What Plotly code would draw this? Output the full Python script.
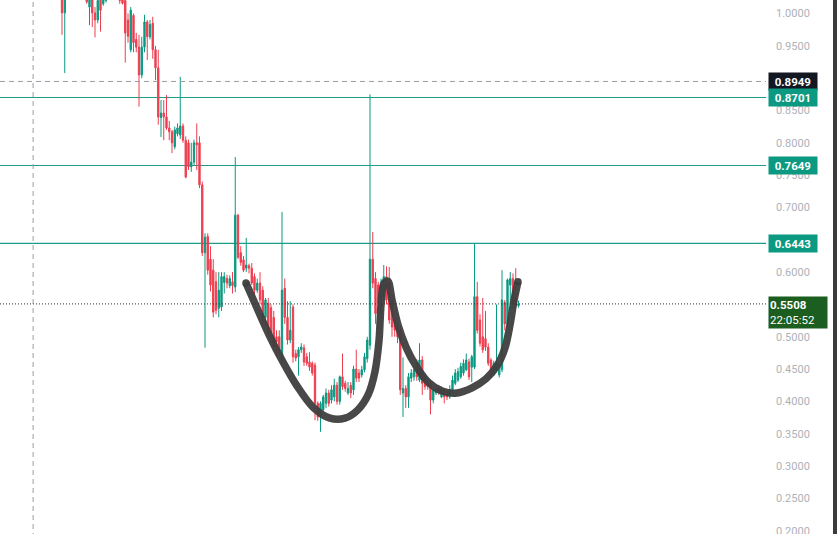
import plotly.graph_objects as go

# ---- candle data (index order, left to right) ----
opens = [1.036,1.001,1.050,1.070,1.085,1.075,1.060,1.070,1.055,1.040,
         1.010,1.040,1.001,0.990,1.025,1.015,1.020,1.040,1.055,1.050,
         1.045,1.040,1.030,1.020,0.990,0.944,0.997,0.960,0.948,0.905,
         0.948,0.987,0.964,0.985,0.944,0.916,0.839,0.846,0.840,0.823,
         0.817,0.794,0.814,0.812,0.826,0.804,0.800,0.763,0.770,0.800,
         0.800,0.735,0.630,0.655,0.620,0.603,0.585,0.544,0.546,0.584,
         0.590,0.579,0.585,0.577,0.688,0.630,0.619,0.606,0.610,0.606,
         0.593,0.572,0.583,0.572,0.530,0.552,0.545,0.530,0.500,0.500,
         0.464,0.575,0.530,0.495,0.546,0.474,0.469,0.480,0.483,0.469,
         0.461,0.459,0.456,0.397,0.376,0.387,0.397,0.413,0.402,0.407,
         0.425,0.400,0.438,0.428,0.413,0.425,0.418,0.450,0.444,0.441,
         0.449,0.466,0.487,0.620,0.590,0.580,0.536,0.562,0.593,0.583,
         0.557,0.526,0.515,0.510,0.413,0.420,0.407,0.436,0.438,0.459,
         0.433,0.464,0.438,0.430,0.428,0.402,0.413,0.420,0.407,0.418,
         0.415,0.407,0.418,0.428,0.433,0.438,0.444,0.449,0.461,0.453,
         0.453,0.562,0.526,0.500,0.497,0.484,0.464,0.444,0.449,0.441,
         0.449,0.553,0.520,0.580,0.590,0.560,0.548]
highs = [1.052,1.040,1.080,1.095,1.100,1.090,1.080,1.085,1.065,1.050,
         1.050,1.050,1.010,1.030,1.030,1.030,1.045,1.060,1.070,1.065,
         1.055,1.050,1.040,1.025,1.000,1.010,1.000,0.970,0.967,0.964,
         0.998,0.990,0.990,0.995,0.950,0.944,0.866,0.866,0.874,0.834,
         0.820,0.825,0.830,0.902,0.830,0.810,0.805,0.800,0.805,0.830,
         0.810,0.740,0.660,0.660,0.640,0.620,0.600,0.600,0.600,0.600,
         0.596,0.595,0.600,0.778,0.690,0.640,0.625,0.653,0.613,0.614,
         0.598,0.590,0.600,0.578,0.560,0.560,0.550,0.540,0.510,0.510,
         0.693,0.590,0.555,0.555,0.550,0.480,0.484,0.490,0.488,0.475,
         0.476,0.462,0.460,0.400,0.400,0.410,0.420,0.418,0.425,0.435,
         0.430,0.440,0.474,0.432,0.430,0.430,0.455,0.480,0.450,0.455,
         0.475,0.500,0.875,0.662,0.600,0.585,0.590,0.611,0.609,0.608,
         0.565,0.530,0.520,0.515,0.468,0.425,0.444,0.450,0.455,0.465,
         0.490,0.470,0.444,0.435,0.433,0.420,0.425,0.425,0.423,0.420,
         0.418,0.425,0.440,0.450,0.452,0.460,0.465,0.474,0.466,0.472,
         0.645,0.585,0.535,0.560,0.540,0.490,0.467,0.463,0.550,0.460,
         0.603,0.557,0.590,0.600,0.598,0.606,0.556]
lows = [0.967,0.908,1.040,1.060,1.065,1.055,1.045,1.050,1.030,1.015,
        0.982,0.979,0.963,0.985,0.972,1.012,1.017,1.030,1.040,1.035,
        1.025,1.015,1.014,0.924,0.955,0.940,0.940,0.940,0.856,0.900,
        0.940,0.928,0.960,0.930,0.897,0.828,0.809,0.804,0.820,0.804,
        0.784,0.790,0.810,0.806,0.800,0.745,0.758,0.755,0.765,0.758,
        0.730,0.625,0.483,0.596,0.570,0.530,0.535,0.530,0.540,0.567,
        0.575,0.575,0.567,0.569,0.620,0.610,0.600,0.600,0.598,0.580,
        0.565,0.568,0.550,0.520,0.515,0.500,0.490,0.478,0.469,0.470,
        0.460,0.520,0.488,0.490,0.460,0.462,0.440,0.475,0.455,0.455,
        0.447,0.440,0.371,0.370,0.353,0.383,0.390,0.392,0.397,0.400,
        0.395,0.395,0.418,0.415,0.410,0.405,0.410,0.430,0.430,0.437,
        0.445,0.460,0.480,0.575,0.520,0.511,0.511,0.555,0.550,0.520,
        0.500,0.500,0.490,0.410,0.376,0.390,0.390,0.430,0.432,0.432,
        0.430,0.410,0.418,0.418,0.380,0.397,0.410,0.410,0.405,0.397,
        0.402,0.404,0.413,0.425,0.430,0.435,0.440,0.447,0.433,0.430,
        0.450,0.505,0.485,0.475,0.478,0.455,0.436,0.440,0.445,0.437,
        0.445,0.510,0.515,0.550,0.545,0.545,0.545]
closes = [1.001,1.029,1.070,1.085,1.075,1.060,1.070,1.055,1.040,1.018,
          1.040,1.001,0.990,1.020,1.005,1.025,1.040,1.055,1.050,1.045,
          1.040,1.020,1.016,0.970,0.965,1.005,0.955,0.948,0.905,0.948,
          0.987,0.964,0.983,0.944,0.916,0.840,0.846,0.840,0.823,0.817,
          0.800,0.820,0.823,0.826,0.804,0.747,0.763,0.770,0.800,0.797,
          0.735,0.630,0.654,0.603,0.580,0.538,0.541,0.572,0.593,0.593,
          0.583,0.590,0.579,0.688,0.623,0.615,0.603,0.611,0.606,0.583,
          0.572,0.583,0.557,0.530,0.557,0.506,0.506,0.484,0.492,0.478,
          0.572,0.530,0.495,0.510,0.469,0.467,0.480,0.484,0.461,0.459,
          0.453,0.444,0.397,0.376,0.397,0.407,0.413,0.397,0.418,0.425,
          0.400,0.438,0.423,0.420,0.420,0.413,0.450,0.436,0.436,0.449,
          0.469,0.495,0.620,0.583,0.536,0.552,0.583,0.593,0.557,0.526,
          0.515,0.510,0.500,0.418,0.420,0.407,0.438,0.444,0.449,0.438,
          0.464,0.428,0.423,0.423,0.402,0.418,0.420,0.413,0.418,0.407,
          0.407,0.418,0.433,0.444,0.446,0.454,0.459,0.464,0.438,0.469,
          0.562,0.510,0.490,0.480,0.484,0.459,0.438,0.459,0.460,0.456,
          0.557,0.520,0.588,0.590,0.552,0.549,0.5508]
candle_idx = list(range(len(closes)))

# hand-drawn "W" pattern (candle index, price)
curve_x = [66.91, 71.27, 75.64, 80.36, 85.45, 91.27, 97.45, 102.9, 107.6, 111.3,
           113.8, 115.3, 116.0, 117.1, 118.5, 120.0, 122.2, 125.1, 128.7, 133.1,
           138.2, 143.6, 149.1, 154.2, 158.2, 161.1, 162.9, 164.4, 165.8]
curve_y = [0.583, 0.541, 0.500, 0.461, 0.424, 0.391, 0.374, 0.374, 0.387, 0.410,
           0.446, 0.495, 0.549, 0.583, 0.586, 0.557, 0.518, 0.484, 0.455, 0.430,
           0.416, 0.413, 0.421, 0.435, 0.455, 0.483, 0.518, 0.557, 0.585]

# horizontal levels
level_lines = [0.8701, 0.7649, 0.6443]
crosshair_price = 0.8949
crosshair_idx = -10.5
last_price = 0.5508
countdown = "22:05:52"
tick_vals = [0.20, 0.25, 0.30, 0.35, 0.40, 0.45, 0.50, 0.55, 0.60, 0.65,
             0.70, 0.75, 0.80, 0.85, 0.90, 0.95, 1.00]
tick_text = ["0.2000", "0.2500", "0.3000", "0.3500", "0.4000", "0.4500",
             "0.5000", "", "0.6000", "", "0.7000", "0.7500", "0.8000",
             "0.8500", "", "0.9500", "1.0000"]

UP = "#089981"
DOWN = "#EE3D4F"
TEAL = "#1E9C8A"
CURVE = "rgba(62,62,62,0.95)"

FIG_H = 538
PX_PER_UNIT = 646.5
Y_TOP = 1.0209

fig = go.Figure()
fig.add_trace(go.Candlestick(
    x=candle_idx, open=opens, high=highs, low=lows, close=closes,
    increasing=dict(line=dict(color=UP, width=1), fillcolor=UP),
    decreasing=dict(line=dict(color=DOWN, width=1), fillcolor=DOWN),
    whiskerwidth=0, hoverinfo="skip", showlegend=False))

fig.add_trace(go.Scatter(
    x=curve_x, y=curve_y, mode="lines",
    line=dict(color=CURVE, width=7.5, shape="spline", smoothing=0.9),
    hoverinfo="skip", showlegend=False))
fig.add_trace(go.Scatter(
    x=[curve_x[0], curve_x[-1]], y=[curve_y[0], curve_y[-1]], mode="markers",
    marker=dict(color=CURVE, size=7.5, line=dict(width=0)),
    hoverinfo="skip", showlegend=False))

shapes = []
for lv in level_lines:
    shapes.append(dict(type="line", xref="paper", x0=0, x1=1, yref="y", y0=lv, y1=lv,
                       line=dict(color=TEAL, width=1.2), layer="below"))
shapes.append(dict(type="line", xref="paper", x0=0, x1=1, yref="y",
                   y0=crosshair_price, y1=crosshair_price,
                   line=dict(color="#9A9DA6", width=1, dash="5px,4px")))
shapes.append(dict(type="line", xref="x", x0=crosshair_idx, x1=crosshair_idx,
                   yref="paper", y0=0, y1=1,
                   line=dict(color="#9A9DA6", width=1, dash="5px,4px")))
shapes.append(dict(type="line", xref="paper", x0=0, x1=1, yref="y",
                   y0=last_price, y1=last_price,
                   line=dict(color="#333333", width=1, dash="1px,2px")))
shapes.append(dict(type="rect", xref="paper", x0=833/766, x1=837/766, yref="paper",
                   y0=0, y1=1, fillcolor="#3B3B3B", line=dict(width=0)))
fig.update_layout(shapes=shapes)

ann = []
def price_label(val, bg, text=None, h=15, w=46):
    ann.append(dict(xref="paper", x=1, xanchor="left", xshift=2, yref="y", y=val,
                    yanchor="middle", text=text or f"<b>{val:.4f}</b>", showarrow=False,
                    bgcolor=bg, width=w, height=h, align="center",
                    font=dict(family="Roboto, Arial", size=11.5, color="white")))
price_label(crosshair_price, "#131722")
for lv in level_lines:
    price_label(lv, "#0C9981")
ann.append(dict(xref="paper", x=1, xanchor="left", xshift=2, yref="y", y=last_price,
                yanchor="top", yshift=8,
                text=f"<b>{last_price:.4f}</b><br>{countdown}", showarrow=False,
                bgcolor="#1B5E20", width=56, height=29, align="left",
                font=dict(family="Roboto, Arial", size=11.5, color="white")))
fig.update_layout(annotations=ann)

fig.update_layout(
    width=837, height=FIG_H,
    margin=dict(l=0, r=71, t=0, b=0),
    paper_bgcolor="white", plot_bgcolor="white",
    xaxis=dict(range=[-22.545, 256.0], visible=False, rangeslider=dict(visible=False)),
    yaxis=dict(range=[Y_TOP - FIG_H / PX_PER_UNIT, Y_TOP], side="right",
               tickvals=tick_vals, ticktext=tick_text, showgrid=False,
               zeroline=False, showline=False, ticks="", ticklabelstandoff=9,
               ticklabeloverflow="allow",
               tickfont=dict(family="Roboto, Arial", size=11, color="#AEB1B9")),
)

fig.write_html("out.html", config={"displayModeBar": False},
               post_script="document.body.style.margin='0';document.body.style.overflow='hidden';")
